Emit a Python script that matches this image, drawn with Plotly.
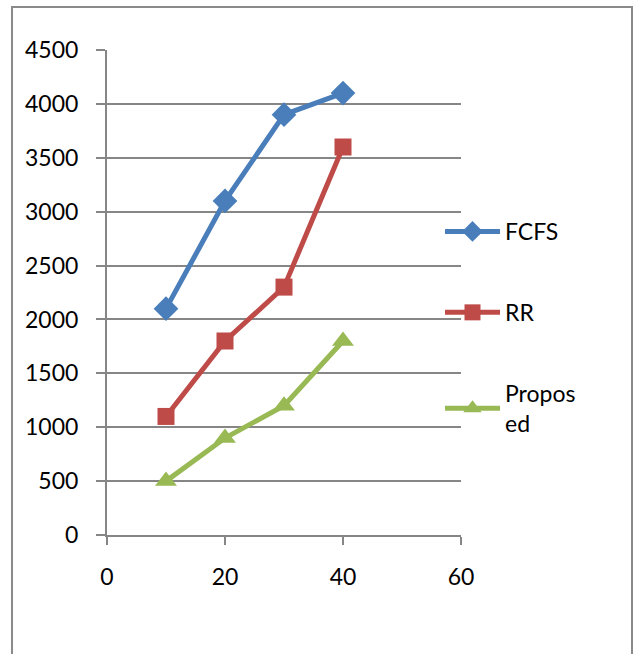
import plotly.graph_objects as go

# Number of processes on the x axis, waiting time on the y axis
processes = [10, 20, 30, 40]
fcfs = [2100, 3100, 3900, 4100]
rr = [1100, 1800, 2300, 3600]
proposed = [500, 900, 1200, 1800]

x_ticks = [0, 20, 40, 60]
y_ticks = [0, 500, 1000, 1500, 2000, 2500, 3000, 3500, 4000, 4500]

FONT = "Lato, Liberation Sans, sans-serif"
GRID = "#868686"
FS = 23

series = [
    ("FCFS", fcfs, "#4A7EBB", "diamond", 19),
    ("RR", rr, "#BE4B48", "square", 17),
    ("Propos<br>ed", proposed, "#98B954", "triangle-up", 19),
]

fig = go.Figure()
for i, (name, vals, color, symbol, size) in enumerate(series):
    fig.add_trace(go.Scatter(
        x=processes, y=vals, name=name, mode="lines+markers",
        line=dict(color=color, width=5),
        marker=dict(symbol=symbol, size=size, color=color),
        legendgroup=f"g{i}",
    ))

W, H = 634, 654
ml, mr, mt, mb = 107, 173, 50, 119
pw, ph = W - ml - mr, H - mt - mb

def px_x(p):
    return (p - ml) / pw

def px_y(p):
    return (H - mb - p) / ph

fig.update_layout(
    width=W, height=H,
    margin=dict(l=ml, r=mr, t=mt, b=mb),
    paper_bgcolor="white", plot_bgcolor="white",
    font=dict(family=FONT, size=FS, color="black"),
    showlegend=True,
    legend=dict(
        x=px_x(440), y=px_y(210), xanchor="left", yanchor="top",
        traceorder="grouped", tracegroupgap=48,
        itemwidth=55, bgcolor="rgba(0,0,0,0)",
        font=dict(family=FONT, size=FS, color="black"),
    ),
    xaxis=dict(
        range=[0, 60], tickvals=x_ticks, showgrid=False,
        showline=True, linecolor=GRID, linewidth=2,
        ticks="outside", ticklen=8, tickwidth=2, tickcolor=GRID,
        ticklabelstandoff=12, zeroline=False,
        tickfont=dict(family=FONT, size=FS, color="black"),
    ),
    yaxis=dict(
        range=[0, 4500], tickvals=y_ticks, showgrid=True,
        gridcolor=GRID, gridwidth=2,
        showline=True, linecolor=GRID, linewidth=2,
        ticks="outside", ticklen=9, tickwidth=2, tickcolor=GRID,
        ticklabelstandoff=13, zeroline=False,
        tickfont=dict(family=FONT, size=FS, color="black"),
    ),
    shapes=[dict(
        type="rect", xref="paper", yref="paper",
        x0=px_x(12), x1=px_x(632), y0=px_y(700), y1=px_y(7),
        line=dict(color="#8A8A8A", width=2), fillcolor="rgba(0,0,0,0)",
        layer="below",
    )],
)

fig.write_html("out.html")
